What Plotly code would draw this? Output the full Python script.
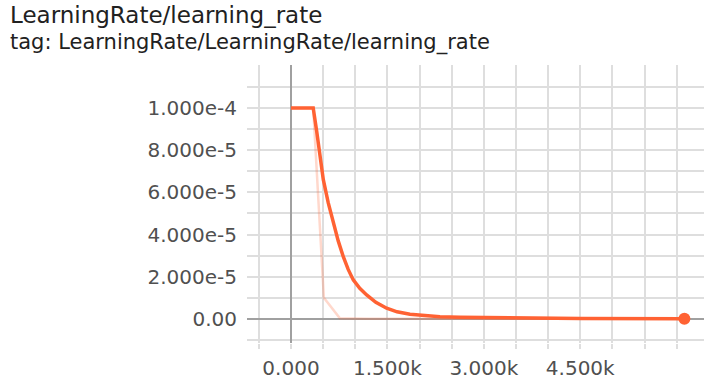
import plotly.graph_objects as go

# Learning-rate scalar: raw samples and the smoothed curve (step, value)
raw_steps = [0, 346, 512, 761, 1200, 2000, 3000, 4000, 5000, 6120]
raw_values = [1.0e-4, 1.0e-4, 1.0e-5, 3e-7, 1e-7, 1e-7, 1e-7, 1e-7, 1e-7, 1e-7]

smooth_steps = [0, 346, 400, 450, 503, 580, 658, 735, 814, 890, 969, 1070, 1177,
                1320, 1488, 1650, 1851, 2080, 2318, 2629, 3500, 4500, 6120]
smooth_values = [1.0e-4, 1.0e-4, 8.9e-5, 7.7e-5, 6.6e-5, 5.5e-5, 4.54e-5, 3.7e-5,
                 2.95e-5, 2.35e-5, 1.85e-5, 1.45e-5, 1.14e-5, 7.9e-6, 5.1e-6,
                 3.4e-6, 2.2e-6, 1.5e-6, 1.1e-6, 8e-7, 4e-7, 2e-7, 1e-7]

x_tick_vals = [0, 1500, 3000, 4500]
x_tick_text = ["0.000", "1.500k", "3.000k", "4.500k"]
y_tick_vals = [0, 2e-5, 4e-5, 6e-5, 8e-5, 1e-4]
y_tick_text = ["0.00", "2.000e-5", "4.000e-5", "6.000e-5", "8.000e-5", "1.000e-4"]

title_text = "LearningRate/learning_rate"
subtitle_text = "tag: LearningRate/LearningRate/learning_rate"

ORANGE = "#ff6233"
GRID = "#dedede"
ZERO = "#a0a0a0"
FONT = "DejaVu Sans"
TICK_COLOR = "#505050"

fig = go.Figure()
fig.add_trace(go.Scatter(
    x=raw_steps, y=raw_values, mode="lines",
    line=dict(color=ORANGE, width=2.5), opacity=0.25, hoverinfo="skip",
))
fig.add_trace(go.Scatter(
    x=smooth_steps, y=smooth_values, mode="lines",
    line=dict(color=ORANGE, width=3.5), hoverinfo="skip",
))
fig.add_trace(go.Scatter(
    x=[smooth_steps[-1]], y=[smooth_values[-1]], mode="markers",
    marker=dict(color=ORANGE, size=12), hoverinfo="skip",
))

W, H = 704, 380
L, R, T, B = 247, 0, 65, 37
pw, ph = W - L - R, H - T - B

fig.update_layout(
    width=W, height=H,
    margin=dict(l=L, r=R, t=T, b=B, pad=0, autoexpand=False),
    paper_bgcolor="white", plot_bgcolor="white",
    showlegend=False,
    font=dict(family=FONT, color=TICK_COLOR),
    xaxis=dict(
        range=[-684, 6425], automargin=False,
        tickmode="array", tickvals=x_tick_vals, ticktext=x_tick_text,
        showgrid=True, gridcolor=GRID, gridwidth=2,
        zeroline=True, zerolinecolor=ZERO, zerolinewidth=2,
        ticks="outside", ticklen=5, tickcolor=GRID, tickwidth=2,
        tickfont=dict(size=20, color=TICK_COLOR, family=FONT),
        ticklabelstandoff=2,
        minor=dict(tickmode="linear", tick0=0, dtick=500, showgrid=True,
                   gridcolor=GRID, gridwidth=2, ticks="outside", ticklen=5,
                   tickcolor=GRID, tickwidth=2),
        showline=False, fixedrange=True,
    ),
    yaxis=dict(
        range=[-1.14e-5, 1.204e-4], automargin=False,
        tickmode="array", tickvals=y_tick_vals, ticktext=y_tick_text,
        showgrid=True, gridcolor=GRID, gridwidth=2,
        zeroline=True, zerolinecolor=ZERO, zerolinewidth=2,
        ticks="", tickfont=dict(size=20, color=TICK_COLOR, family=FONT),
        ticklabelstandoff=9,
        minor=dict(tickmode="linear", tick0=0, dtick=1e-5, showgrid=True,
                   gridcolor=GRID, gridwidth=2),
        showline=False, fixedrange=True,
    ),
    annotations=[
        dict(text=title_text, xref="paper", yref="paper",
             x=(8 - L) / pw, y=(H - B - 15) / ph, xanchor="left", yanchor="middle",
             showarrow=False, font=dict(size=23, color="#212121", family=FONT)),
        dict(text=subtitle_text, xref="paper", yref="paper",
             x=(8 - L) / pw, y=(H - B - 42) / ph, xanchor="left", yanchor="middle",
             showarrow=False, font=dict(size=21, color="#212121", family=FONT)),
    ],
)

fig.write_html("out.html", config={"displayModeBar": False, "staticPlot": True})
